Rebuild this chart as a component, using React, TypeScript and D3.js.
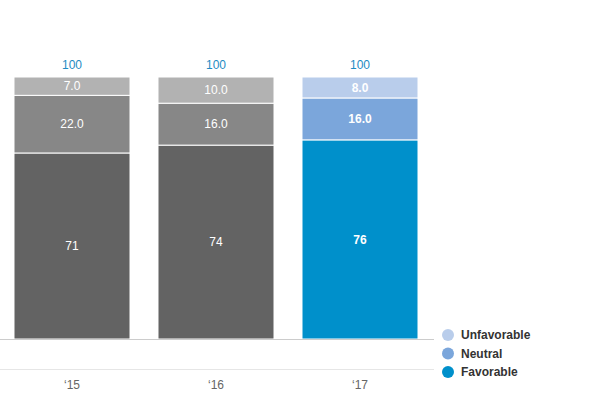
import React from "react";
import { scaleBand, scaleLinear, stack } from "d3";

const categories = ["‘15", "‘16", "‘17"];
const favorable = [71, 74, 76];
const neutral = [22, 16, 16];
const unfavorable = [7, 10, 8];
const totals = [100, 100, 100];

const seriesNames = ["Favorable", "Neutral", "Unfavorable"];
const grayColors = ["#636363", "#878787", "#b2b2b2"];
const blueColors = ["#0090cb", "#7ba6db", "#b9cdeb"];

const font = "'Liberation Sans', Arial, sans-serif";

function App() {
  const width = 600;
  const height = 400;

  const rows = categories.map((c, i) => ({
    cat: c,
    Favorable: favorable[i],
    Neutral: neutral[i],
    Unfavorable: unfavorable[i],
  }));
  const layers = stack().keys(seriesNames)(rows as any);

  const x = scaleBand()
    .domain(categories)
    .range([0, 432])
    .paddingInner(0.1944)
    .paddingOuter(0.0972);
  const y = scaleLinear().domain([0, 100]).range([339, 77]);

  const legend = [
    { name: "Unfavorable", color: blueColors[2] },
    { name: "Neutral", color: blueColors[1] },
    { name: "Favorable", color: blueColors[0] },
  ];

  return (
    <svg
      width={width}
      height={height}
      style={{ position: "absolute", left: 0, top: 0, fontFamily: font }}
    >
      <rect width={width} height={height} fill="#fff" />
      <line x1={0} x2={434} y1={369.5} y2={369.5} stroke="#e6e6e6" />
      {layers.map((layer, si) =>
        layer.map((d, ci) => {
          const highlight = ci === categories.length - 1;
          const color = highlight ? blueColors[si] : grayColors[si];
          const x0 = x(categories[ci])!;
          const y0 = y(d[1]);
          const h = y(d[0]) - y(d[1]);
          const v = d[1] - d[0];
          const label = si === 0 ? String(v) : v.toFixed(1);
          return (
            <g key={`${si}-${ci}`}>
              <rect
                x={x0}
                y={y0}
                width={x.bandwidth()}
                height={h}
                fill={color}
                stroke="#fff"
                strokeWidth={1}
              />
              <text
                x={x0 + x.bandwidth() / 2}
                y={y0 + h / 2}
                dy="0.35em"
                textAnchor="middle"
                fill="#fff"
                fontSize={12}
                fontWeight={highlight ? "bold" : "normal"}
              >
                {label}
              </text>
            </g>
          );
        })
      )}
      <line x1={0} x2={434} y1={339.5} y2={339.5} stroke="#cccccc" />
      {categories.map((c, i) => (
        <g key={c}>
          <text
            x={x(c)! + x.bandwidth() / 2}
            y={y(totals[i]) - 8}
            textAnchor="middle"
            fill="#1e8bc3"
            fontSize={12}
          >
            {totals[i]}
          </text>
          <text
            x={x(c)! + x.bandwidth() / 2}
            y={389}
            textAnchor="middle"
            fill="#666"
            fontSize={12}
          >
            {c}
          </text>
        </g>
      ))}
      {legend.map((l, i) => (
        <g key={l.name} transform={`translate(448, ${335 + i * 18.5})`}>
          <circle r={6} fill={l.color} />
          <text
            x={13}
            dy="0.35em"
            fontSize={12}
            fontWeight="bold"
            fill="#333"
          >
            {l.name}
          </text>
        </g>
      ))}
    </svg>
  );
}

export default App;
